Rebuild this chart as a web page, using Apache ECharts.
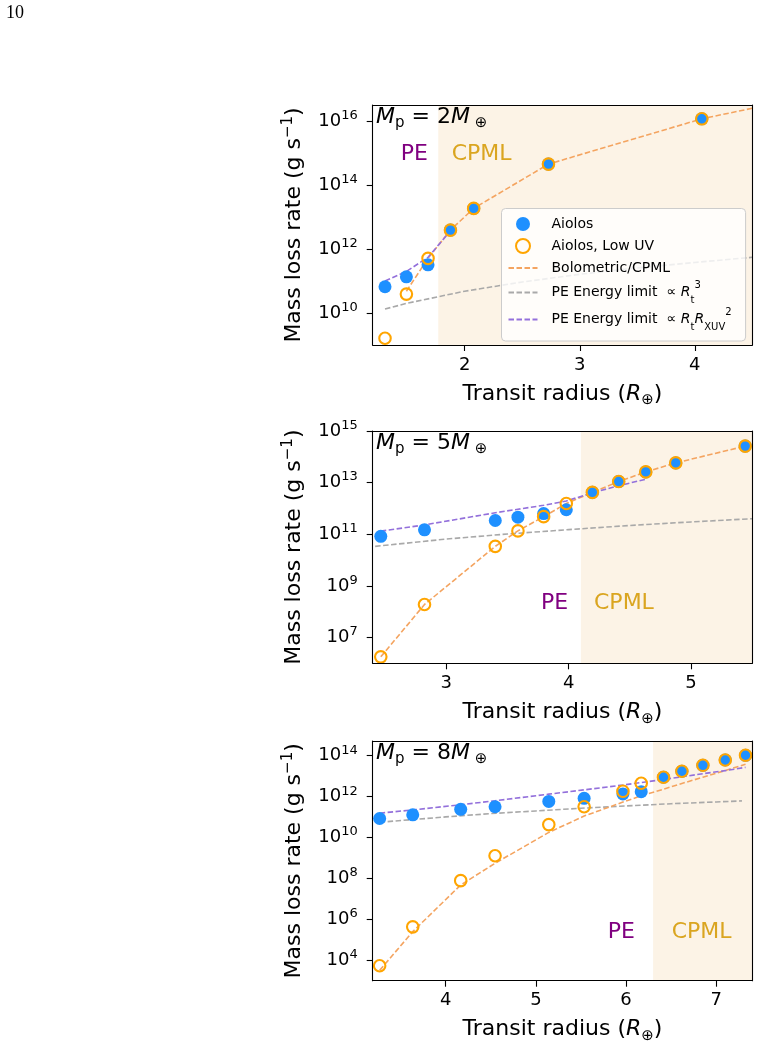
<!DOCTYPE html>
<html><head><meta charset="utf-8">
<script src="https://cdn.jsdelivr.net/npm/echarts@6/dist/echarts.min.js"></script>
<style>html,body{margin:0;padding:0;background:#fff;} #c{width:760px;height:1049px;}</style>
</head><body><div id="c"></div>
<script>
// ---------------- DATA (mass loss rates in g/s, radii in Earth radii) ----------------
// Panel 1: Mp = 2 Mearth
const radius1 = [1.307, 1.493, 1.681, 1.876, 2.078, 2.728, 4.061];
const aiolos1 = [6.6e10, 1.35e11, 3.2e11, 3.9e12, 1.86e13, 4.5e14, 1.17e16];
const lowuv1  = [1.62e9, 3.9e10, 5.1e11, 3.9e12, 1.86e13, 4.5e14, 1.17e16];
const bolo1_r = [1.493, 1.681, 1.876, 2.078, 2.728, 4.061, 4.5];
const bolo1   = [4.8e10, 5.1e11, 3.9e12, 1.86e13, 4.5e14, 1.17e16, 2.5e16];
const peR3_1_r = [1.307, 1.5, 2.0, 2.5, 3.0, 3.5, 4.0, 4.5];
const peR3_1   = [1.33e10, 2.02e10, 4.8e10, 9.3e10, 1.62e11, 2.57e11, 3.8e11, 5.5e11];
const peXUV_1_r = [1.307, 1.493, 1.681, 1.876];
const peXUV_1   = [1.0e11, 2.0e11, 5.5e11, 3.7e12];
const cpml1 = 1.77;

// Panel 2: Mp = 5 Mearth
const radius2 = [2.466, 2.823, 3.401, 3.586, 3.796, 3.981, 4.194, 4.409, 4.63, 4.875, 5.442];
const aiolos2 = [8.3e10, 1.48e11, 3.4e11, 4.6e11, 6.3e11, 8.9e11, 4.2e12, 1.1e13, 2.6e13, 5.8e13, 2.6e14];
const lowuv2  = [1.78e6, 1.9e8, 3.4e10, 1.35e11, 4.8e11, 1.55e12, 4.2e12, 1.1e13, 2.6e13, 5.8e13, 2.6e14];
const bolo2_r = [2.466, 2.823, 3.401, 3.586, 3.796, 3.981, 4.194, 4.409, 4.63, 4.875, 5.442, 5.5];
const bolo2   = [1.78e6, 1.9e8, 3.4e10, 1.35e11, 4.8e11, 1.55e12, 4.2e12, 1.1e13, 2.6e13, 5.8e13, 2.6e14, 3.2e14];
const peR3_2_r = [2.42, 3.0, 3.5, 4.0, 4.5, 5.0, 5.5];
const peR3_2   = [3.4e10, 6.5e10, 1.02e11, 1.51e11, 2.19e11, 3.0e11, 4.0e11];
const peXUV_2_r = [2.466, 2.823, 3.401, 3.586, 3.796, 3.981, 4.194, 4.409, 4.63];
const peXUV_2   = [1.32e11, 2.3e11, 6.8e11, 9.3e11, 1.32e12, 1.95e12, 4.0e12, 7.6e12, 1.35e13];
const cpml2 = 4.1;

// Panel 3: Mp = 8 Mearth
const radius3 = [3.267, 3.634, 4.166, 4.547, 5.143, 5.535, 5.965, 6.168, 6.415, 6.619, 6.852, 7.10, 7.325];
const aiolos3 = [8.5e10, 1.29e11, 2.4e11, 3.2e11, 5.8e11, 8.3e11, 1.35e12, 1.74e12, 8.9e12, 1.74e13, 3.4e13, 6.2e13, 1.05e14];
const lowuv3  = [5.4e3, 4.3e5, 7.8e7, 1.29e9, 4.3e10, 3.2e11, 1.82e12, 4.5e12, 8.9e12, 1.74e13, 3.4e13, 6.2e13, 1.05e14];
const bolo3_r = [3.267, 3.634, 4.166, 4.547, 5.143, 5.535, 5.965, 6.168, 6.415, 6.619, 6.852, 7.10, 7.325];
const bolo3   = [3.2e3, 2.5e5, 4.8e7, 5.5e8, 1.78e10, 1.12e11, 5.4e11, 1.1e12, 2.3e12, 4.4e12, 8.9e12, 1.9e13, 3.8e13];
const peR3_3_r = [3.267, 4.0, 4.5, 5.0, 5.5, 6.0, 6.5, 7.0, 7.285];
const peR3_3   = [5.6e10, 1.02e11, 1.48e11, 2.0e11, 2.7e11, 3.5e11, 4.5e11, 5.5e11, 6.2e11];
const peXUV_3_r = [3.267, 3.634, 4.166, 4.547, 5.143, 5.535, 5.965, 6.168, 6.415, 6.619, 6.852, 7.10, 7.325];
const peXUV_3   = [1.55e11, 2.24e11, 4.0e11, 6.3e11, 1.32e12, 2.14e12, 3.7e12, 4.9e12, 6.9e12, 9.3e12, 1.32e13, 1.86e13, 2.7e13];
const cpml3 = 6.3;

// tick labels (x values, and y exponents of 10)
const xticks1 = [2, 3, 4];
const xticks2 = [3, 4, 5];
const xticks3 = [4, 5, 6, 7];
const yticks1 = [10, 12, 14, 16];
const yticks2 = [7, 9, 11, 13, 15];
const yticks3 = [4, 6, 8, 10, 12, 14];
const masses = ['2', '5', '8'];
const legendNames = ['Aiolos', 'Aiolos, Low UV', 'Bolometric/CPML', 'PE Energy limit R3', 'PE Energy limit RXUV'];

// ---------------- CHART ----------------
const FONT = 'DejaVu Sans';
const BLUE = '#1e90ff', ORANGE = '#ffa500', BOLO = '#f4a460', GRAY = '#a9a9a9', PURPLE = '#9370db', SHADE = '#fcf3e6';
const lg = v => Math.log10(v);
const pts = (xs, ys) => xs.map((x, i) => [x, lg(ys[i])]);

const layout = [
  {top: 105, height: 240, xmin: 1.2, xmax: 4.5, ymin: 9.0, ymax: 16.5},
  {top: 431, height: 232.3, xmin: 2.4, xmax: 5.5, ymin: 6.0, ymax: 15.0},
  {top: 741, height: 239.7, xmin: 3.19, xmax: 7.4, ymin: 3.0, ymax: 14.72}
];
const GL = 372.7, GW = 379.6;

const panels = [
  {r: radius1, a: aiolos1, l: lowuv1, br: bolo1_r, b: bolo1, gr: peR3_1_r, g: peR3_1, pr: peXUV_1_r, p: peXUV_1, c: cpml1, xt: xticks1, yt: yticks1},
  {r: radius2, a: aiolos2, l: lowuv2, br: bolo2_r, b: bolo2, gr: peR3_2_r, g: peR3_2, pr: peXUV_2_r, p: peXUV_2, c: cpml2, xt: xticks2, yt: yticks2},
  {r: radius3, a: aiolos3, l: lowuv3, br: bolo3_r, b: bolo3, gr: peR3_3_r, g: peR3_3, pr: peXUV_3_r, p: peXUV_3, c: cpml3, xt: xticks3, yt: yticks3}
];

const grid = [], xAxis = [], yAxis = [], series = [];
const nameRich = {
  i: {fontFamily: FONT, fontSize: 22, fontStyle: 'italic', lineHeight: 28, color: '#000'},
  sb: {fontFamily: FONT, fontSize: 15, lineHeight: 18, verticalAlign: 'bottom', color: '#000'},
  sp: {fontFamily: FONT, fontSize: 15, lineHeight: 14, verticalAlign: 'top', color: '#000'}
};
layout.forEach((L, i) => {
  const P = panels[i];
  grid.push({left: GL, width: GW, top: L.top, height: L.height, containLabel: false});
  xAxis.push({
    type: 'value', gridIndex: i, min: L.xmin, max: L.xmax, position: 'bottom',
    axisLine: {show: true, onZero: false, lineStyle: {color: '#000', width: 1.1}},
    axisTick: {show: true, length: 6, lineStyle: {color: '#000', width: 1.1}, customValues: P.xt},
    axisLabel: {show: true, customValues: P.xt, fontFamily: FONT, fontSize: 18, color: '#000', margin: 11},
    splitLine: {show: false},
    name: 'Transit radius ({i|R}{sb|⊕})', nameLocation: 'middle', nameGap: 35,
    nameTextStyle: {fontFamily: FONT, fontSize: 22, color: '#000', lineHeight: 28, rich: nameRich},
    z: 10
  });
  yAxis.push({
    type: 'value', gridIndex: i, min: L.ymin, max: L.ymax, position: 'left',
    axisLine: {show: true, onZero: false, lineStyle: {color: '#000', width: 1.1}},
    axisTick: {show: true, length: 6, lineStyle: {color: '#000', width: 1.1}, customValues: P.yt},
    axisLabel: {show: true, customValues: P.yt, margin: 15,
      formatter: v => '{b|10}{s|' + v + '}',
      rich: {
        b: {fontFamily: FONT, fontSize: 18, color: '#000', lineHeight: 24},
        s: {fontFamily: FONT, fontSize: 13, color: '#000', lineHeight: 14, verticalAlign: 'top'}
      }},
    splitLine: {show: false},
    name: 'Mass loss rate (g s{sp|−1})', nameLocation: 'middle', nameGap: 64, nameRotate: 90,
    nameTextStyle: {fontFamily: FONT, fontSize: 22, color: '#000', lineHeight: 28, rich: nameRich},
    z: 10
  });
});
// frame axes (top and right spines)
layout.forEach((L, i) => {
  xAxis.push({type: 'value', gridIndex: i, min: L.xmin, max: L.xmax, position: 'top',
    axisLine: {show: true, onZero: false, lineStyle: {color: '#000', width: 1.1}},
    axisTick: {show: false}, axisLabel: {show: false}, splitLine: {show: false}, z: 10});
  yAxis.push({type: 'value', gridIndex: i, min: L.ymin, max: L.ymax, position: 'right',
    axisLine: {show: true, onZero: false, lineStyle: {color: '#000', width: 1.1}},
    axisTick: {show: false}, axisLabel: {show: false}, splitLine: {show: false}, z: 10});
});

const dash = [5.5, 2.5];
panels.forEach((P, i) => {
  const L = layout[i];
  const nm = k => (i === 0 ? legendNames[k] : legendNames[k] + ' #' + i);
  series.push({
    type: 'line', name: nm(3), xAxisIndex: i, yAxisIndex: i, data: pts(P.gr, P.g),
    symbol: 'none', showSymbol: false, silent: true, z: 2,
    lineStyle: {color: GRAY, width: 1.6, type: dash}, itemStyle: {color: GRAY},
    markArea: {silent: true, itemStyle: {color: SHADE}, data: [[{xAxis: P.c}, {xAxis: L.xmax}]]}
  });
  series.push({
    type: 'line', name: nm(2), xAxisIndex: i, yAxisIndex: i, data: pts(P.br, P.b),
    symbol: 'none', showSymbol: false, silent: true, z: 3,
    lineStyle: {color: BOLO, width: 1.6, type: dash}, itemStyle: {color: BOLO}
  });
  series.push({
    type: 'line', name: nm(4), xAxisIndex: i, yAxisIndex: i, data: pts(P.pr, P.p),
    symbol: 'none', showSymbol: false, silent: true, z: 3,
    lineStyle: {color: PURPLE, width: 1.6, type: dash}, itemStyle: {color: PURPLE}
  });
  series.push({
    type: 'scatter', name: nm(0), xAxisIndex: i, yAxisIndex: i, data: pts(P.r, P.a),
    symbol: 'circle', symbolSize: 13, silent: true, z: 5,
    itemStyle: {color: BLUE, opacity: 1}
  });
  series.push({
    type: 'scatter', name: nm(1), xAxisIndex: i, yAxisIndex: i, data: pts(P.r, P.l),
    symbol: 'circle', symbolSize: 11.5, silent: true, z: 6,
    itemStyle: {color: 'rgba(0,0,0,0)', borderColor: ORANGE, borderWidth: 2.1, opacity: 1}
  });
});

const legendText = {
  'Aiolos': '{g| }{t|Aiolos}',
  'Aiolos, Low UV': '{g| }{t|Aiolos, Low UV}',
  'Bolometric/CPML': '{g| }{t|Bolometric/CPML}',
  'PE Energy limit R3': '{g| }{m|PE Energy limit  ∝ }{mi|R}{msb|t}{msp|3}',
  'PE Energy limit RXUV': '{g| }{m|PE Energy limit  ∝ }{mi|R}{msb|t}{mi|R}{msb|XUV}{msp|2}'
};
const legendData = [
  {name: legendNames[0]},
  {name: legendNames[1], itemStyle: {borderWidth: 2}},
  {name: legendNames[2], itemStyle: {opacity: 0}},
  {name: legendNames[3], itemStyle: {opacity: 0}},
  {name: legendNames[4], itemStyle: {opacity: 0}}
];

const titleRich = {
  i: {fontFamily: FONT, fontSize: 22, fontStyle: 'italic', lineHeight: 28, fill: '#000'},
  n: {fontFamily: FONT, fontSize: 22, lineHeight: 28, fill: '#000'},
  sb: {fontFamily: FONT, fontSize: 15, lineHeight: 16, verticalAlign: 'bottom', fill: '#000'}
};
const graphic = [
  {type: 'text', z: 100, style: {x: 6, y: 13.5, text: '10', fontFamily: 'Liberation Serif', fontSize: 18, fill: '#000', verticalAlign: 'middle', align: 'left'}}
];
const labPos = [
  {ty: 117, pe: [400.7, 154.5], cp: [451.7, 154.5]},
  {ty: 443, pe: [541, 603.7], cp: [594, 603.7]},
  {ty: 753, pe: [607.7, 932.5], cp: [671.7, 932.5]}
];
labPos.forEach((p, i) => {
  graphic.push({type: 'text', z: 100, style: {x: 376, y: p.ty, text: '{i|M}{sb|p}{n| = ' + masses[i] + '}{i|M}{sb| ⊕}', rich: titleRich, verticalAlign: 'middle', align: 'left'}});
  graphic.push({type: 'text', z: 100, style: {x: p.pe[0], y: p.pe[1], text: 'PE', fontFamily: FONT, fontSize: 22, fill: '#800080', verticalAlign: 'middle', align: 'left'}});
  graphic.push({type: 'text', z: 100, style: {x: p.cp[0], y: p.cp[1], text: 'CPML', fontFamily: FONT, fontSize: 22, fill: '#daa520', verticalAlign: 'middle', align: 'left'}});
});

const chart = echarts.init(document.getElementById('c'), null, {renderer: 'canvas'});
chart.setOption({
  animation: false,
  backgroundColor: '#fff',
  grid, xAxis, yAxis, series, graphic,
  legend: {
    data: legendData, orient: 'vertical', left: 501.5, top: 208.5,
    itemWidth: 29, itemHeight: 14, itemGap: 2, padding: [5.5, 14, 9, 6],
    backgroundColor: 'rgba(255,255,255,0.8)', borderColor: '#cccccc', borderWidth: 1, borderRadius: 4,
    selectedMode: false, z: 20,
    formatter: name => legendText[name],
    textStyle: {
      fontFamily: FONT, fontSize: 14, color: '#000', lineHeight: 20,
      rich: {
        g: {width: 9, lineHeight: 20, fontSize: 10},
        t: {fontFamily: FONT, fontSize: 14, lineHeight: 20, color: '#000'},
        m: {fontFamily: FONT, fontSize: 14, lineHeight: 25, color: '#000'},
        mi: {fontFamily: FONT, fontSize: 14, fontStyle: 'italic', lineHeight: 25, color: '#000'},
        msb: {fontFamily: FONT, fontSize: 10, lineHeight: 15, verticalAlign: 'bottom', color: '#000'},
        msp: {fontFamily: FONT, fontSize: 10, lineHeight: 18, verticalAlign: 'top', color: '#000'}
      }
    }
  }
});
</script></body></html>
